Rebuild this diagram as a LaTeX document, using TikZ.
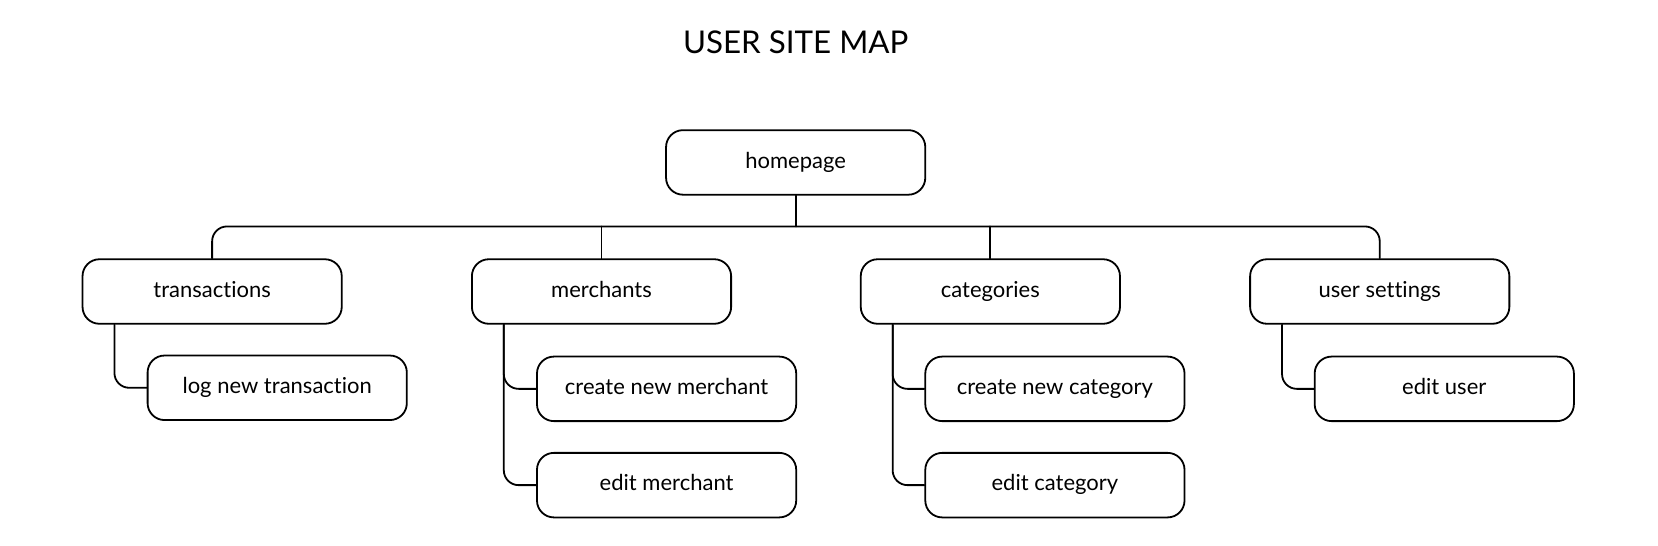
\documentclass[tikz,border=0pt]{standalone}
\usepackage{fontspec}
\setmainfont{Lato}[Ligatures=NoCommon]
\usepackage{tikz}
\usetikzlibrary{calc}
\tikzset{
  box/.style={draw=black, line width=0.85pt, rounded corners=8pt, minimum width=122.5pt, minimum height=30.5pt, inner sep=0pt, text height=7.6pt, text depth=2.2pt, font=\fontsize{10.4}{12}\selectfont},
  conn/.style={draw=black, line width=0.85pt, rounded corners=7pt, line cap=round},
  ttl/.style={text=black, font=\fontsize{14.8}{18}\selectfont},
}

\begin{document}
\begin{tikzpicture}[x=0.5pt, y=-0.5pt]
  \useasboundingbox (0,0) rectangle (1567,516);
  % title
  \node[ttl, anchor=base] (title) at (752,51) {USER SITE MAP};
  % top level
  \node[box] (home) at (752,153.5) {homepage};
  \coordinate (bus) at (0,214);
  % sections
  \foreach \N/\X/\T in {trans/200.5/transactions, merch/568.5/merchants, cat/936/categories, user/1304/user settings}
    \node[box] (\N) at (\X,275.5) {\T};
  % sub pages
  \node[box] (logtr) at (262,366.5) {log new transaction};
  \node[box] (newm) at (630,367.5) {create new merchant};
  \node[box] (editm) at (630,458.5) {edit merchant};
  \node[box] (newc) at (997,367.5) {create new category};
  \node[box] (editc) at (997,458.5) {edit category};
  \node[box] (editu) at (1365,367.5) {edit user};
  % connectors
  \draw[conn] (trans.north) |- (user.north |- bus) -- (user.north);
  \draw[conn] (home.south) -- (home.south |- bus);
  \foreach \N in {merch,cat}
    \draw[conn] (\N.north) -- (\N.north |- bus);
  \foreach \P/\C in {trans/logtr, merch/newm, merch/editm, cat/newc, cat/editc, user/editu}
    \draw[conn] ($(\P.south west)+(31,0)$) |- (\C.west);
\end{tikzpicture}
\end{document}
